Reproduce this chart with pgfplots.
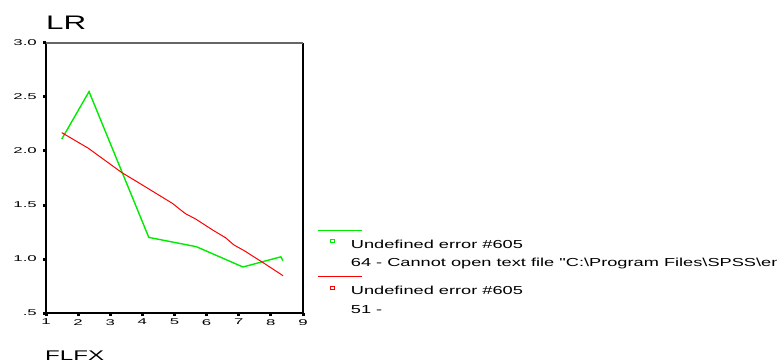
\documentclass[border=0pt]{standalone}
\usepackage{pgfplots}
\pgfplotsset{compat=1.18}
\usepackage{fontspec}
\setmainfont{Liberation Sans}
\newfontfamily\tickfont[FakeStretch=2.0]{Liberation Sans}
\newfontfamily\titlefont[FakeStretch=1.6]{Liberation Sans}
\newfontfamily\xlabfont[FakeStretch=1.72]{Liberation Sans}
\newfontfamily\legfont[FakeStretch=1.57]{Liberation Sans}
\definecolor{sgreen}{RGB}{0,235,0}
\definecolor{sred}{RGB}{255,0,0}
\begin{document}
\begin{tikzpicture}[x=1bp,y=1bp]
\path[use as bounding box] (0,0) rectangle (777,362);
\node[anchor=base west, inner sep=0pt, font=\titlefont\fontsize{19.6bp}{22bp}\selectfont] at (46,333) {LR};
\node[anchor=base west, inner sep=0pt, font=\xlabfont\fontsize{14bp}{16bp}\selectfont] at (45,1.5) {FLFX};
\begin{axis}[
  at={(46bp,49bp)}, anchor=south west,
  scale only axis, width=257bp, height=270bp,
  xmin=1, xmax=9, ymin=0.5, ymax=3,
  xtick={1,2,3,4,5,6,7,8,9},
  xticklabels={1,2,3,4,5,6,7,8,9},
  ytick={0.5,1,1.5,2,2.5,3},
  yticklabels={.5,1.0,1.5,2.0,2.5,3.0},
  tick align=outside,
  xtick pos=bottom, ytick pos=left,
  major tick length=3bp,
  every tick/.style={black, line width=3bp},
  axis line style={draw=none},
  clip=false,
  xticklabel style={font=\tickfont\fontsize{8.4bp}{10bp}\selectfont, inner sep=0pt, yshift=-3bp},
  yticklabel style={font=\tickfont\fontsize{8.4bp}{10bp}\selectfont, inner sep=0pt, xshift=-6bp},
  legend style={draw=none, fill=none, at={(rel axis cs:1.105,0.288)}, anchor=north west,
    inner sep=0pt, outer sep=0pt, row sep=32.5bp, column sep=16bp,
    cells={anchor=base west}, nodes={inner sep=0pt, outer sep=0pt},
    font=\legfont\fontsize{11.6bp}{18.3bp}\selectfont},
]
\addplot[sgreen, line width=1.4bp, legend image code/.code={
    \draw[sgreen, line width=1.2bp, overlay] (-14bp,17.3bp) -- (30bp,17.3bp);
    \draw[sgreen, line width=0.9bp] (-2bp,5.5bp) rectangle (2bp,8.5bp);
  }] coordinates {
  (1.49,2.11) (2.34,2.55) (4.20,1.20) (5.68,1.114) (7.13,0.926) (8.31,1.02) (8.38,0.984)
};
\addlegendentry{\begin{tabular}[t]{@{}l@{}}Undefined error \#605\\64 - Cannot open text file "C:\textbackslash Program Files\textbackslash SPSS\textbackslash en\end{tabular}}
\addplot[sred, line width=1bp, legend image code/.code={
    \draw[sred, line width=1.2bp, overlay] (-14bp,18.2bp) -- (30bp,18.2bp);
    \draw[sred, line width=0.9bp] (-2bp,5bp) rectangle (2bp,8bp);
  }] coordinates {
  (1.49,2.17) (2.32,2.025) (3.36,1.80) (3.88,1.707) (4.93,1.516) (5.34,1.42) (5.66,1.37)
  (6.18,1.27) (6.59,1.197) (6.85,1.13) (7.17,1.077) (7.79,0.96) (8.38,0.845)
};
\addlegendentry{\begin{tabular}[t]{@{}l@{}}Undefined error \#605\\51 -\end{tabular}}
\draw[black, line width=2.5bp] (rel axis cs:0,1) -- (rel axis cs:0,0) -- (rel axis cs:1,0);
\draw[black, line width=2bp] (rel axis cs:1,0) -- (rel axis cs:1,1);
\draw[black!60, line width=1.5bp] (rel axis cs:0,1) -- (rel axis cs:1,1);
\end{axis}
\end{tikzpicture}
\end{document}
